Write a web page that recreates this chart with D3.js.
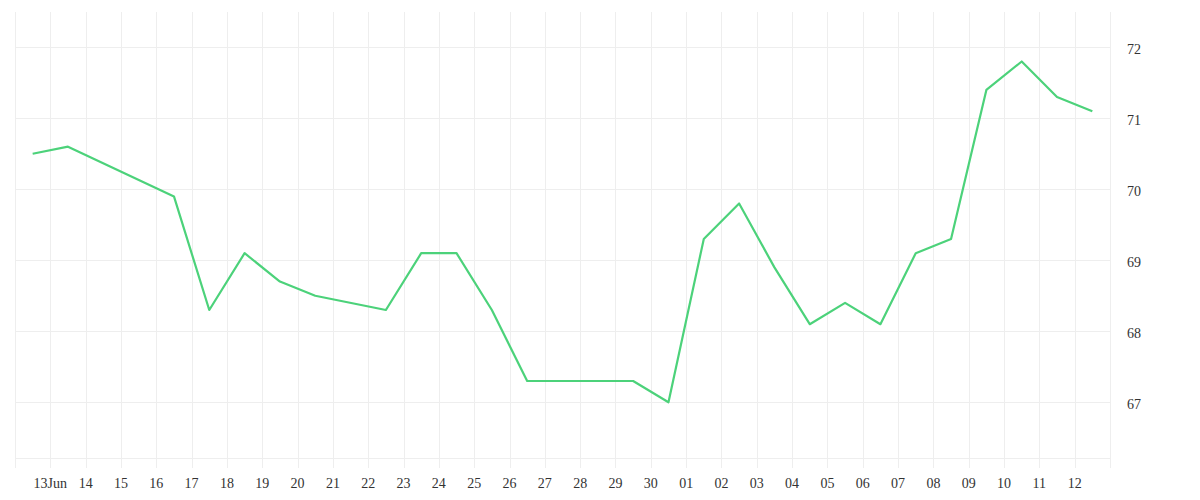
<!DOCTYPE html>
<html><head><meta charset="utf-8">
<script src="https://cdn.jsdelivr.net/npm/d3@7"></script>
<style>html,body{margin:0;padding:0;background:#fff;}svg{display:block;}</style>
</head><body>
<svg id="c" width="1200" height="500"></svg>
<script>
const dates = ["2025-06-12","2025-06-13","2025-06-16","2025-06-17","2025-06-18","2025-06-19","2025-06-20","2025-06-22","2025-06-23","2025-06-24","2025-06-25","2025-06-26","2025-06-29","2025-06-30","2025-07-01","2025-07-02","2025-07-03","2025-07-04","2025-07-05","2025-07-06","2025-07-07","2025-07-08","2025-07-09","2025-07-10","2025-07-11","2025-07-12"];
const values = [70.5,70.6,69.9,68.3,69.1,68.7,68.5,68.3,69.1,69.1,68.3,67.3,67.3,67.0,69.3,69.8,68.9,68.1,68.4,68.1,69.1,69.3,71.4,71.8,71.3,71.1];
const yTicks = [67,68,69,70,71,72];

(function(){
const svg = d3.select("#c");
const mL = 15, mR = 1110, mT = 12, mB = 458;
const parse = d3.utcParse("%Y-%m-%d");
const data = dates.map((d,i)=>({t:new Date(parse(d).getTime()+12*3600e3), v:values[i]}));
const x = d3.scaleUtc().domain([parse("2025-06-12"), parse("2025-07-13")]).range([mL,mR]);
const y = d3.scaleLinear().domain([66.2155,72.497]).range([mB,mT]);
const grid = "#eeeeee";
const font = "'Liberation Serif', serif";

const days = d3.utcDay.range(parse("2025-06-12"), d3.utcDay.offset(parse("2025-07-13"),1));
svg.append("g").selectAll("line").data(days).join("line")
  .attr("x1",d=>Math.round(x(d))+0.5).attr("x2",d=>Math.round(x(d))+0.5)
  .attr("y1",mT).attr("y2",mB+10).attr("stroke",grid).attr("stroke-width",1);
svg.append("g").selectAll("line").data(yTicks).join("line")
  .attr("x1",mL).attr("x2",mR)
  .attr("y1",d=>Math.round(y(d))+0.5).attr("y2",d=>Math.round(y(d))+0.5)
  .attr("stroke",grid);
svg.append("line").attr("x1",mL).attr("x2",mR).attr("y1",mB+0.5).attr("y2",mB+0.5).attr("stroke",grid);

const fmt = d => (d.getUTCDate()===13 && d.getUTCMonth()===5) ? "13Jun" : d3.utcFormat("%d")(d);
svg.append("g").selectAll("text").data(days.filter(d=>d>parse("2025-06-12") && d<parse("2025-07-13"))).join("text")
  .attr("x",d=>x(d)).attr("y",488).attr("text-anchor","middle")
  .attr("font-family",font).attr("font-size",14).attr("fill","#333")
  .text(fmt);
svg.append("g").selectAll("text").data(yTicks).join("text")
  .attr("x",1127).attr("y",d=>y(d)+6.5).attr("font-family",font).attr("font-size",14).attr("fill","#333")
  .text(d=>d);

svg.append("path").datum(data)
  .attr("d", d3.line().x(d=>x(d.t)).y(d=>y(d.v)))
  .attr("fill","none").attr("stroke","#4cd27a").attr("stroke-width",2.2).attr("stroke-linejoin","round");
})();
</script>
</body></html>
